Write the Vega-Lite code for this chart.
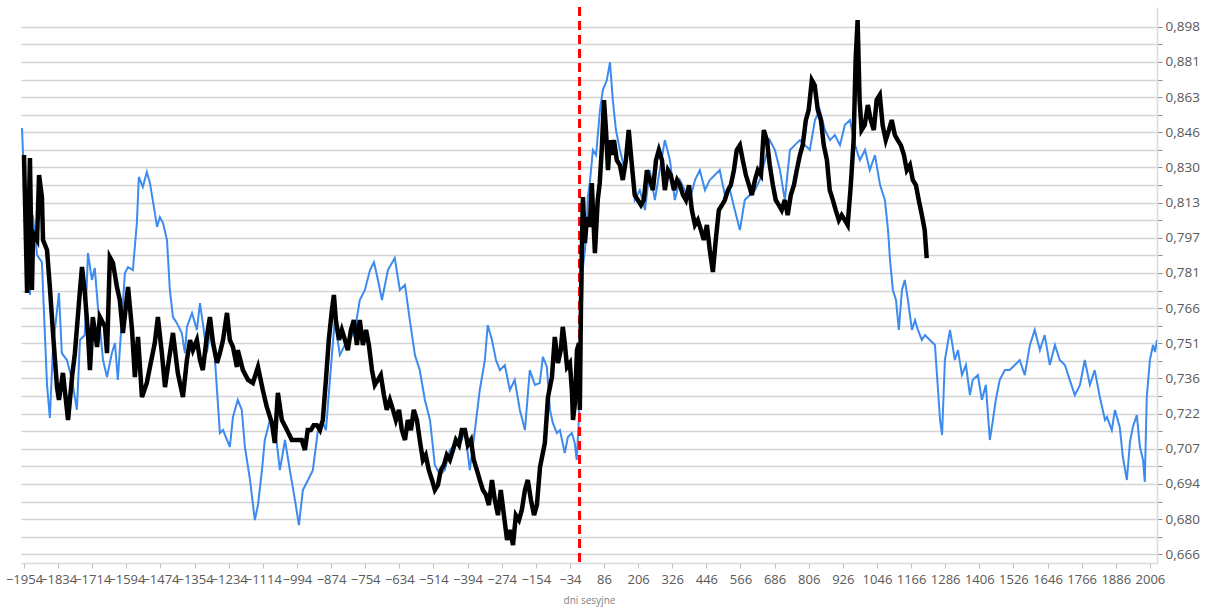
{
"$schema":"https://vega.github.io/schema/vega-lite/v6.json",
"width":1136,"height":556,
"autosize":{"type":"none"},
"padding":{"left":21,"top":7,"right":50,"bottom":45},
"background":"#ffffff",
"config":{"view":{"stroke":null},"font":"Open Sans"},
"datasets":{
"blue":[
{"d":-1961,"v":0.8483},{"d":-1951,"v":0.8144},{"d":-1940,"v":0.7872},{"d":-1933,"v":0.7718},{"d":-1923,"v":0.8075},{"d":-1908,"v":0.7894},{"d":-1891,"v":0.7863},{"d":-1884,"v":0.7653},{"d":-1873,"v":0.7335},{"d":-1863,"v":0.7199},{"d":-1852,"v":0.7494},{"d":-1831,"v":0.7727},{"d":-1821,"v":0.7468},{"d":-1803,"v":0.7439},{"d":-1785,"v":0.7356},{"d":-1768,"v":0.7232},{"d":-1757,"v":0.7524},{"d":-1740,"v":0.7545},{"d":-1729,"v":0.7903},{"d":-1715,"v":0.7784},{"d":-1705,"v":0.7837},{"d":-1694,"v":0.7666},{"d":-1676,"v":0.7439},{"d":-1662,"v":0.7368},{"d":-1645,"v":0.7468},{"d":-1634,"v":0.7511},{"d":-1624,"v":0.7356},{"d":-1610,"v":0.7609},{"d":-1599,"v":0.7815},{"d":-1588,"v":0.7841},{"d":-1571,"v":0.7828},{"d":-1557,"v":0.8039},{"d":-1550,"v":0.8251},{"d":-1536,"v":0.8204},{"d":-1522,"v":0.8274},{"d":-1511,"v":0.8223},{"d":-1501,"v":0.8144},{"d":-1486,"v":0.8021},{"d":-1476,"v":0.8066},{"d":-1465,"v":0.8039},{"d":-1451,"v":0.7962},{"d":-1441,"v":0.774},{"d":-1430,"v":0.7622},{"d":-1416,"v":0.7596},{"d":-1399,"v":0.7554},{"d":-1388,"v":0.7468},{"d":-1381,"v":0.758},{"d":-1363,"v":0.764},{"d":-1346,"v":0.7567},{"d":-1335,"v":0.7683},{"d":-1325,"v":0.7596},{"d":-1311,"v":0.7468},{"d":-1300,"v":0.7554},{"d":-1283,"v":0.7452},{"d":-1265,"v":0.7138},{"d":-1254,"v":0.715},{"d":-1230,"v":0.7082},{"d":-1219,"v":0.7203},{"d":-1202,"v":0.7273},{"d":-1188,"v":0.7232},{"d":-1177,"v":0.7082},{"d":-1159,"v":0.6951},{"d":-1142,"v":0.6795},{"d":-1131,"v":0.6853},{"d":-1117,"v":0.699},{"d":-1107,"v":0.711},{"d":-1089,"v":0.7191},{"d":-1072,"v":0.717},{"d":-1054,"v":0.699},{"d":-1036,"v":0.711},{"d":-1019,"v":0.699},{"d":-1001,"v":0.6873},{"d":-987,"v":0.6776},{"d":-973,"v":0.6912},{"d":-955,"v":0.6951},{"d":-938,"v":0.699},{"d":-920,"v":0.715},{"d":-906,"v":0.7191},{"d":-892,"v":0.715},{"d":-878,"v":0.7356},{"d":-861,"v":0.7609},{"d":-843,"v":0.746},{"d":-825,"v":0.7503},{"d":-808,"v":0.7524},{"d":-790,"v":0.7567},{"d":-773,"v":0.7696},{"d":-755,"v":0.774},{"d":-737,"v":0.7828},{"d":-723,"v":0.7863},{"d":-709,"v":0.7784},{"d":-695,"v":0.7696},{"d":-674,"v":0.7828},{"d":-650,"v":0.7881},{"d":-632,"v":0.774},{"d":-614,"v":0.7762},{"d":-597,"v":0.7609},{"d":-579,"v":0.746},{"d":-562,"v":0.7397},{"d":-544,"v":0.7273},{"d":-526,"v":0.7191},{"d":-509,"v":0.701},{"d":-491,"v":0.6971},{"d":-474,"v":0.699},{"d":-456,"v":0.707},{"d":-439,"v":0.709},{"d":-421,"v":0.709},{"d":-403,"v":0.715},{"d":-386,"v":0.699},{"d":-368,"v":0.715},{"d":-351,"v":0.7314},{"d":-333,"v":0.7439},{"d":-323,"v":0.7588},{"d":-308,"v":0.7524},{"d":-294,"v":0.7439},{"d":-280,"v":0.7397},{"d":-263,"v":0.7418},{"d":-245,"v":0.7314},{"d":-228,"v":0.7356},{"d":-210,"v":0.7232},{"d":-192,"v":0.715},{"d":-175,"v":0.7397},{"d":-157,"v":0.7335},{"d":-140,"v":0.7343},{"d":-129,"v":0.7452},{"d":-115,"v":0.741},{"d":-104,"v":0.7232},{"d":-94,"v":0.7179},{"d":-80,"v":0.7138},{"d":-69,"v":0.715},{"d":-52,"v":0.7058},{"d":-41,"v":0.7122},{"d":-27,"v":0.7138},{"d":-17,"v":0.7098},{"d":-10,"v":0.703},{"d":-2,"v":0.7203},{"d":8,"v":0.7653},{"d":12,"v":0.7841},{"d":19,"v":0.7917},{"d":26,"v":0.8039},{"d":29,"v":0.8158},{"d":36,"v":0.8223},{"d":47,"v":0.8378},{"d":58,"v":0.8354},{"d":72,"v":0.857},{"d":82,"v":0.8667},{"d":96,"v":0.8716},{"d":107,"v":0.8805},{"d":117,"v":0.8618},{"d":128,"v":0.8473},{"d":142,"v":0.8378},{"d":159,"v":0.8283},{"d":177,"v":0.8425},{"d":194,"v":0.8144},{"d":212,"v":0.819},{"d":230,"v":0.8098},{"d":247,"v":0.8283},{"d":265,"v":0.8144},{"d":282,"v":0.8283},{"d":300,"v":0.8425},{"d":318,"v":0.833},{"d":335,"v":0.8144},{"d":353,"v":0.8237},{"d":370,"v":0.819},{"d":388,"v":0.8144},{"d":406,"v":0.8237},{"d":423,"v":0.8283},{"d":441,"v":0.819},{"d":458,"v":0.8237},{"d":476,"v":0.826},{"d":493,"v":0.8283},{"d":511,"v":0.8167},{"d":529,"v":0.819},{"d":546,"v":0.8098},{"d":564,"v":0.8007},{"d":581,"v":0.8144},{"d":599,"v":0.8167},{"d":617,"v":0.819},{"d":634,"v":0.8237},{"d":652,"v":0.833},{"d":669,"v":0.8425},{"d":687,"v":0.8378},{"d":705,"v":0.8283},{"d":722,"v":0.8144},{"d":740,"v":0.8378},{"d":757,"v":0.8401},{"d":775,"v":0.8425},{"d":793,"v":0.8401},{"d":810,"v":0.8378},{"d":828,"v":0.8521},{"d":845,"v":0.857},{"d":863,"v":0.8473},{"d":881,"v":0.8425},{"d":898,"v":0.8449},{"d":916,"v":0.8401},{"d":933,"v":0.8497},{"d":951,"v":0.8521},{"d":969,"v":0.8401},{"d":986,"v":0.833},{"d":1004,"v":0.8378},{"d":1021,"v":0.8283},{"d":1039,"v":0.8354},{"d":1057,"v":0.8213},{"d":1074,"v":0.8144},{"d":1085,"v":0.8007},{"d":1092,"v":0.7872},{"d":1102,"v":0.774},{"d":1113,"v":0.7696},{"d":1123,"v":0.7567},{"d":1134,"v":0.774},{"d":1144,"v":0.7784},{"d":1155,"v":0.7696},{"d":1169,"v":0.7567},{"d":1180,"v":0.7609},{"d":1190,"v":0.7567},{"d":1204,"v":0.7524},{"d":1215,"v":0.7545},{"d":1232,"v":0.7524},{"d":1250,"v":0.7503},{"d":1268,"v":0.7191},{"d":1275,"v":0.713},{"d":1285,"v":0.7439},{"d":1303,"v":0.7567},{"d":1320,"v":0.7439},{"d":1331,"v":0.7481},{"d":1345,"v":0.7376},{"d":1359,"v":0.7418},{"d":1373,"v":0.7293},{"d":1383,"v":0.7356},{"d":1401,"v":0.7376},{"d":1415,"v":0.7273},{"d":1429,"v":0.7335},{"d":1443,"v":0.711},{"d":1454,"v":0.7191},{"d":1464,"v":0.7273},{"d":1478,"v":0.7356},{"d":1496,"v":0.7397},{"d":1513,"v":0.7397},{"d":1531,"v":0.7418},{"d":1548,"v":0.7439},{"d":1566,"v":0.7376},{"d":1584,"v":0.7503},{"d":1601,"v":0.7567},{"d":1619,"v":0.7481},{"d":1636,"v":0.7545},{"d":1654,"v":0.7418},{"d":1672,"v":0.7503},{"d":1689,"v":0.7439},{"d":1707,"v":0.7418},{"d":1724,"v":0.7356},{"d":1742,"v":0.7293},{"d":1760,"v":0.7335},{"d":1777,"v":0.7439},{"d":1795,"v":0.7335},{"d":1812,"v":0.7397},{"d":1830,"v":0.7285},{"d":1848,"v":0.7191},{"d":1855,"v":0.7203},{"d":1872,"v":0.715},{"d":1883,"v":0.7232},{"d":1900,"v":0.7162},{"d":1911,"v":0.7042},{"d":1925,"v":0.6951},{"d":1936,"v":0.7102},{"d":1946,"v":0.7162},{"d":1960,"v":0.7211},{"d":1971,"v":0.7082},{"d":1982,"v":0.703},{"d":1988,"v":0.6943},{"d":1995,"v":0.7285},{"d":2006,"v":0.7439},{"d":2017,"v":0.7503},{"d":2024,"v":0.7473},{"d":2031,"v":0.7524}
],
"black":[
{"d":-1954,"v":0.8354},{"d":-1943,"v":0.7727},{"d":-1933,"v":0.834},{"d":-1926,"v":0.774},{"d":-1922,"v":0.7994},{"d":-1908,"v":0.7962},{"d":-1901,"v":0.826},{"d":-1891,"v":0.8158},{"d":-1887,"v":0.7962},{"d":-1873,"v":0.7917},{"d":-1863,"v":0.7753},{"d":-1852,"v":0.7554},{"d":-1838,"v":0.7326},{"d":-1831,"v":0.7273},{"d":-1817,"v":0.7385},{"d":-1799,"v":0.7191},{"d":-1785,"v":0.7368},{"d":-1775,"v":0.7468},{"d":-1757,"v":0.774},{"d":-1750,"v":0.7841},{"d":-1740,"v":0.7727},{"d":-1729,"v":0.7554},{"d":-1722,"v":0.7397},{"d":-1712,"v":0.7622},{"d":-1697,"v":0.7494},{"d":-1687,"v":0.7622},{"d":-1669,"v":0.758},{"d":-1662,"v":0.7468},{"d":-1652,"v":0.7885},{"d":-1641,"v":0.7859},{"d":-1627,"v":0.7753},{"d":-1617,"v":0.7696},{"d":-1606,"v":0.7554},{"d":-1588,"v":0.7753},{"d":-1574,"v":0.7567},{"d":-1564,"v":0.7368},{"d":-1553,"v":0.7537},{"d":-1539,"v":0.7285},{"d":-1522,"v":0.7343},{"d":-1511,"v":0.741},{"d":-1494,"v":0.7511},{"d":-1483,"v":0.7622},{"d":-1469,"v":0.7468},{"d":-1458,"v":0.7326},{"d":-1448,"v":0.741},{"d":-1430,"v":0.7554},{"d":-1413,"v":0.7385},{"d":-1395,"v":0.7285},{"d":-1381,"v":0.7439},{"d":-1370,"v":0.7524},{"d":-1360,"v":0.7481},{"d":-1346,"v":0.7524},{"d":-1335,"v":0.7439},{"d":-1325,"v":0.7397},{"d":-1311,"v":0.7537},{"d":-1300,"v":0.7622},{"d":-1289,"v":0.7511},{"d":-1275,"v":0.7427},{"d":-1265,"v":0.7468},{"d":-1254,"v":0.7524},{"d":-1240,"v":0.764},{"d":-1230,"v":0.7524},{"d":-1219,"v":0.7494},{"d":-1205,"v":0.741},{"d":-1202,"v":0.7481},{"d":-1184,"v":0.7397},{"d":-1166,"v":0.7356},{"d":-1149,"v":0.7343},{"d":-1131,"v":0.741},{"d":-1114,"v":0.7314},{"d":-1100,"v":0.7244},{"d":-1082,"v":0.7179},{"d":-1072,"v":0.7098},{"d":-1061,"v":0.7302},{"d":-1047,"v":0.7191},{"d":-1029,"v":0.715},{"d":-1012,"v":0.711},{"d":-994,"v":0.711},{"d":-977,"v":0.711},{"d":-966,"v":0.707},{"d":-956,"v":0.715},{"d":-945,"v":0.715},{"d":-935,"v":0.717},{"d":-924,"v":0.717},{"d":-913,"v":0.715},{"d":-903,"v":0.7191},{"d":-892,"v":0.7356},{"d":-882,"v":0.7524},{"d":-871,"v":0.7653},{"d":-864,"v":0.7718},{"d":-857,"v":0.7609},{"d":-846,"v":0.7524},{"d":-836,"v":0.7567},{"d":-825,"v":0.7524},{"d":-815,"v":0.7481},{"d":-804,"v":0.7567},{"d":-794,"v":0.7609},{"d":-783,"v":0.7503},{"d":-773,"v":0.7609},{"d":-762,"v":0.7503},{"d":-751,"v":0.7567},{"d":-741,"v":0.7503},{"d":-730,"v":0.7397},{"d":-720,"v":0.7335},{"d":-709,"v":0.7356},{"d":-699,"v":0.7376},{"d":-688,"v":0.7293},{"d":-678,"v":0.7232},{"d":-667,"v":0.7273},{"d":-656,"v":0.7232},{"d":-646,"v":0.7191},{"d":-635,"v":0.7232},{"d":-625,"v":0.715},{"d":-614,"v":0.711},{"d":-604,"v":0.7191},{"d":-593,"v":0.715},{"d":-583,"v":0.7232},{"d":-572,"v":0.7191},{"d":-562,"v":0.711},{"d":-551,"v":0.703},{"d":-541,"v":0.705},{"d":-530,"v":0.699},{"d":-519,"v":0.6951},{"d":-509,"v":0.6912},{"d":-498,"v":0.6932},{"d":-488,"v":0.699},{"d":-477,"v":0.701},{"d":-467,"v":0.705},{"d":-456,"v":0.703},{"d":-445,"v":0.707},{"d":-435,"v":0.711},{"d":-424,"v":0.709},{"d":-414,"v":0.715},{"d":-403,"v":0.715},{"d":-393,"v":0.709},{"d":-382,"v":0.711},{"d":-372,"v":0.703},{"d":-361,"v":0.699},{"d":-351,"v":0.6951},{"d":-340,"v":0.6912},{"d":-329,"v":0.6893},{"d":-319,"v":0.6853},{"d":-308,"v":0.6951},{"d":-298,"v":0.6873},{"d":-287,"v":0.6814},{"d":-277,"v":0.6912},{"d":-266,"v":0.6814},{"d":-255,"v":0.6719},{"d":-245,"v":0.6757},{"d":-234,"v":0.67},{"d":-224,"v":0.6814},{"d":-213,"v":0.6795},{"d":-203,"v":0.6834},{"d":-192,"v":0.6912},{"d":-182,"v":0.6951},{"d":-171,"v":0.6873},{"d":-160,"v":0.6814},{"d":-150,"v":0.6853},{"d":-139,"v":0.7002},{"d":-122,"v":0.7098},{"d":-111,"v":0.7285},{"d":-97,"v":0.7368},{"d":-87,"v":0.7537},{"d":-76,"v":0.7427},{"d":-66,"v":0.7481},{"d":-59,"v":0.758},{"d":-52,"v":0.7511},{"d":-44,"v":0.741},{"d":-34,"v":0.7427},{"d":-27,"v":0.7314},{"d":-23,"v":0.7191},{"d":-16,"v":0.7261},{"d":-9,"v":0.7481},{"d":-2,"v":0.7511},{"d":1,"v":0.7232},{"d":5,"v":0.7666},{"d":8,"v":0.7917},{"d":12,"v":0.8158},{"d":19,"v":0.7948},{"d":26,"v":0.8066},{"d":36,"v":0.8021},{"d":43,"v":0.8223},{"d":54,"v":0.7903},{"d":64,"v":0.8144},{"d":71,"v":0.8223},{"d":78,"v":0.8378},{"d":86,"v":0.8618},{"d":93,"v":0.8473},{"d":100,"v":0.8283},{"d":107,"v":0.8425},{"d":114,"v":0.8354},{"d":121,"v":0.8425},{"d":131,"v":0.833},{"d":142,"v":0.8307},{"d":152,"v":0.8237},{"d":163,"v":0.833},{"d":173,"v":0.8473},{"d":184,"v":0.8307},{"d":194,"v":0.8167},{"d":205,"v":0.8144},{"d":216,"v":0.8121},{"d":226,"v":0.8144},{"d":237,"v":0.8283},{"d":247,"v":0.8237},{"d":258,"v":0.819},{"d":269,"v":0.833},{"d":279,"v":0.8378},{"d":290,"v":0.833},{"d":300,"v":0.819},{"d":311,"v":0.8283},{"d":321,"v":0.826},{"d":332,"v":0.819},{"d":343,"v":0.8237},{"d":353,"v":0.8213},{"d":364,"v":0.8167},{"d":374,"v":0.8144},{"d":385,"v":0.8213},{"d":395,"v":0.8098},{"d":406,"v":0.803},{"d":416,"v":0.8052},{"d":427,"v":0.8007},{"d":437,"v":0.7962},{"d":448,"v":0.803},{"d":458,"v":0.7917},{"d":469,"v":0.7819},{"d":479,"v":0.7962},{"d":490,"v":0.8098},{"d":501,"v":0.8121},{"d":511,"v":0.8144},{"d":522,"v":0.819},{"d":532,"v":0.8213},{"d":543,"v":0.8283},{"d":553,"v":0.8378},{"d":564,"v":0.8401},{"d":574,"v":0.833},{"d":585,"v":0.826},{"d":596,"v":0.8213},{"d":606,"v":0.8167},{"d":617,"v":0.8237},{"d":627,"v":0.8283},{"d":638,"v":0.826},{"d":648,"v":0.8473},{"d":659,"v":0.8425},{"d":669,"v":0.8307},{"d":680,"v":0.8213},{"d":690,"v":0.8144},{"d":701,"v":0.8121},{"d":711,"v":0.8098},{"d":722,"v":0.8144},{"d":732,"v":0.8075},{"d":743,"v":0.8167},{"d":754,"v":0.8213},{"d":764,"v":0.8283},{"d":775,"v":0.8354},{"d":785,"v":0.8401},{"d":796,"v":0.8521},{"d":806,"v":0.857},{"d":817,"v":0.8716},{"d":827,"v":0.8691},{"d":838,"v":0.857},{"d":849,"v":0.8521},{"d":859,"v":0.8401},{"d":870,"v":0.833},{"d":880,"v":0.819},{"d":891,"v":0.8144},{"d":901,"v":0.8098},{"d":912,"v":0.8052},{"d":922,"v":0.8075},{"d":933,"v":0.8052},{"d":943,"v":0.803},{"d":954,"v":0.8213},{"d":964,"v":0.8425},{"d":971,"v":0.8815},{"d":978,"v":0.9017},{"d":985,"v":0.8618},{"d":992,"v":0.8473},{"d":1003,"v":0.8497},{"d":1014,"v":0.8594},{"d":1024,"v":0.8521},{"d":1035,"v":0.8473},{"d":1045,"v":0.8618},{"d":1056,"v":0.8643},{"d":1066,"v":0.8497},{"d":1077,"v":0.8425},{"d":1088,"v":0.8473},{"d":1098,"v":0.8521},{"d":1109,"v":0.8449},{"d":1119,"v":0.8425},{"d":1130,"v":0.8401},{"d":1141,"v":0.8354},{"d":1151,"v":0.8283},{"d":1162,"v":0.8307},{"d":1172,"v":0.8237},{"d":1183,"v":0.8213},{"d":1193,"v":0.8144},{"d":1204,"v":0.8075},{"d":1214,"v":0.8007},{"d":1221,"v":0.7881}
],
"zero":[{"d":0}]
},
"encoding":{
"x":{"field":"d","type":"quantitative","scale":{"domain":[-1964.5,2031],"nice":false,"zero":false},
"axis":{"title":"dni sesyjne","titleFont":"Open Sans","titleFontSize":10,"titleFontWeight":"normal","titleColor":"#7f7f7f","titlePadding":9,
"values":[-1954,-1834,-1714,-1594,-1474,-1354,-1234,-1114,-994,-874,-754,-634,-514,-394,-274,-154,-34,86,206,326,446,566,686,806,926,1046,1166,1286,1406,1526,1646,1766,1886,2006],
"format":"d","labelFont":"Open Sans","labelFontSize":13,"labelColor":"#595959","labelPadding":5,"labelOverlap":false,"labelFlush":false,
"domainColor":"#d9d9d9","domainWidth":1.5,"tickColor":"#bfbfbf","tickSize":5,"grid":false}}
},
"layer":[
{"data":{"name":"blue"},"mark":{"type":"line","color":"#3d8bef","strokeWidth":2,"clip":true},
"encoding":{"y":{"field":"v","type":"quantitative","scale":{"type":"log","domain":[0.6632,0.9084],"nice":false,"zero":false},
"axis":{"orient":"right","title":null,
"values":[0.66647,0.673135,0.679866,0.686665,0.693531,0.700467,0.707471,0.714546,0.721692,0.728909,0.736198,0.74356,0.750995,0.758505,0.76609,0.773751,0.781489,0.789303,0.797196,0.805168,0.81322,0.821353,0.829566,0.837862,0.846241,0.854703,0.86325,0.871883,0.880601,0.889407,0.898301],
"labelExpr":"(round(log(datum.value/0.66647)/log(1.01)) % 2 == 0) ? replace(format(datum.value, '.3f'), '.', ',') : ''",
"labelFont":"Open Sans","labelFontSize":13.5,"labelColor":"#595959","labelPadding":3,"labelOverlap":false,"labelFlush":false,
"grid":true,"gridColor":"#d4d4d4","gridWidth":1.5,
"domainColor":"#d9d9d9","domainWidth":1.5,"tickColor":"#8c8c8c","tickSize":5}}}},
{"data":{"name":"zero"},"mark":{"type":"rule","color":"#ff0000","strokeWidth":3,"strokeDash":[9,5]},"encoding":{}},
{"data":{"name":"black"},"mark":{"type":"line","color":"#000000","strokeWidth":4.5,"clip":true},
"encoding":{"y":{"field":"v","type":"quantitative"}}}
]
}
